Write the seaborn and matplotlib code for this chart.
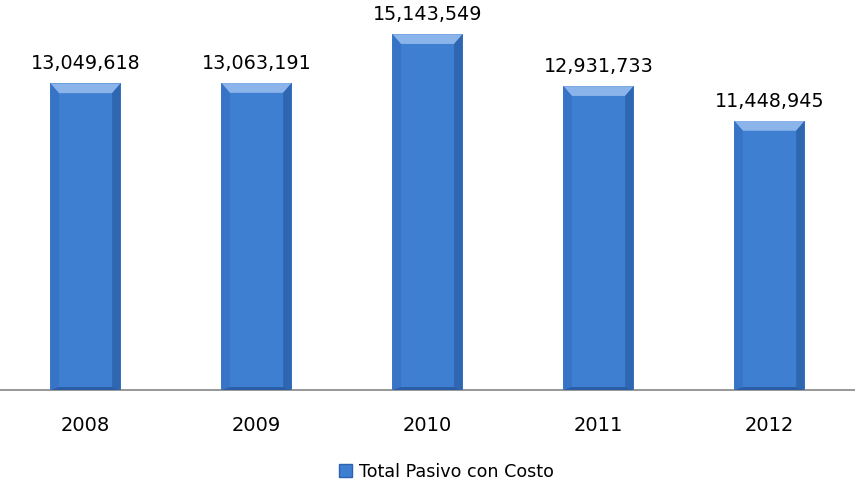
import matplotlib
matplotlib.use("Agg")
import matplotlib.pyplot as plt
import seaborn as sns
import pandas as pd
import numpy as np
from matplotlib.patches import Polygon, Rectangle

years = ["2008", "2009", "2010", "2011", "2012"]
values = [13049618, 13063191, 15143549, 12931733, 11448945]
series_name = "Total Pasivo con Costo"

sns.set_style("white")
plt.rcParams['font.family'] = ['DejaVu Sans']

df = pd.DataFrame({"year": years, "value": values})

fig = plt.figure(figsize=(8.55, 4.86), dpi=100)
ax = fig.add_axes([0.0, 1 - 390 / 486, 1.0, 390 / 486])

base_color = "#3f7fd1"
sns.barplot(data=df, x="year", y="value", color=base_color, width=0.41,
            saturation=1, ax=ax, edgecolor="none")

YMAX = 16600000
ax.set_xlim(-0.5, 4.5)
ax.set_ylim(0, YMAX)

# bevel effect
for p in list(ax.patches):
    x0 = p.get_x()
    w = p.get_width()
    h = p.get_height()
    x1 = x0 + w
    bw = w * 0.12
    bh = YMAX * 0.025
    ax.add_patch(Polygon([[x0, h], [x1, h], [x1 - bw, h - bh], [x0 + bw, h - bh]],
                         closed=True, facecolor="#8ab4ea", edgecolor="none", zorder=3))
    ax.add_patch(Polygon([[x0, h], [x0 + bw, h - bh], [x0 + bw, bh * 0.3], [x0, 0]],
                         closed=True, facecolor="#3774c6", edgecolor="none", zorder=3))
    ax.add_patch(Polygon([[x1, h], [x1 - bw, h - bh], [x1 - bw, bh * 0.3], [x1, 0]],
                         closed=True, facecolor="#2e66b2", edgecolor="none", zorder=3))
    ax.add_patch(Polygon([[x0, 0], [x1, 0], [x1 - bw, bh * 0.3], [x0 + bw, bh * 0.3]],
                         closed=True, facecolor="#2a5da5", edgecolor="none", zorder=3))
    ax.annotate(f"{int(h):,}", xy=(x0 + w / 2, h), xytext=(0, 7.5),
                textcoords="offset points", ha="center", va="bottom",
                fontsize=13.8, color="#000000")

sns.despine(ax=ax, left=True, top=True, right=True)
ax.spines["bottom"].set_color("#868686")
ax.spines["bottom"].set_linewidth(1.2)
ax.set_yticks([])
ax.set_xlabel("")
ax.set_ylabel("")
ax.tick_params(axis="x", length=0, labelsize=14, pad=19, colors="#000000")

handle = Rectangle((0, 0), 1, 1, facecolor=base_color, edgecolor="#2c62ae")
leg = fig.legend([handle], [series_name], loc="center",
                 bbox_to_anchor=(446 / 855, 1 - 472 / 486),
                 frameon=False, fontsize=12.6, handlelength=0.75, handleheight=0.75,
                 handletextpad=0.4)
for t in leg.get_texts():
    t.set_color("#000000")

fig.savefig("out.png", dpi=100)
